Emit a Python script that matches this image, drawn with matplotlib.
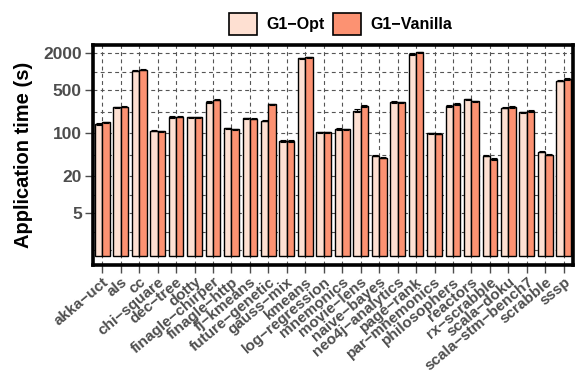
import numpy as np
import matplotlib
matplotlib.use('Agg')
import matplotlib.pyplot as plt
from matplotlib.patches import Patch
from matplotlib.ticker import FixedLocator, NullFormatter

benchmarks = ['akka-uct', 'als', 'cc', 'chi-square', 'dec-tree', 'dotty',
              'finagle-chirper', 'finagle-http', 'fj-kmeans', 'future-genetic',
              'gauss-mix', 'kmeans', 'log-regression', 'mnemonics', 'movie-lens',
              'naive-bayes', 'neo4j-analytics', 'page-rank', 'par-mnemonics',
              'philosophers', 'reactors', 'rx-scrabble', 'scala-doku',
              'scala-stm-bench7', 'scrabble', 'sssp']

# mean application time in seconds
opt_time = [142, 265, 1040, 110, 184, 182, 323, 121, 175, 160,
            75, 1660, 105, 117, 233, 43, 323, 1950, 101,
            278, 357, 43, 261, 220, 50, 717]
vanilla_time = [151, 271, 1080, 109, 186, 182, 352, 116, 173, 296,
                75, 1720, 104, 116, 278, 40, 319, 2070, 99,
                300, 332, 38, 271, 231, 45, 764]

# standard deviation
opt_err = [3, 6, 25, 2, 4, 4, 8, 3, 4, 4,
           2, 40, 2, 3, 15, 1, 8, 45, 2,
           12, 10, 1, 6, 5, 1, 15]
vanilla_err = [3, 6, 25, 2, 4, 4, 8, 3, 4, 6,
               2, 40, 2, 3, 8, 1, 8, 45, 2,
               8, 8, 1, 10, 6, 1, 15]

y_breaks = [5, 20, 100, 500, 2000]

series = ['G1-Opt', 'G1-Vanilla']
colors = ['#FEE0D2', '#FC9272']

plt.rcParams['font.family'] = ['Liberation Sans', 'DejaVu Sans']
plt.rcParams['font.weight'] = 'bold'
plt.rcParams['axes.labelweight'] = 'bold'

def minus(s):
    return s.replace('-', '\u2212')

fig = plt.figure(figsize=(5.81, 3.73), dpi=100)
ax = fig.add_axes([93/581, 1 - 265/373, 480/581, (265 - 44.5)/373])

x = np.arange(1, len(benchmarks) + 1)
w = 0.4
for off, vals, errs, col in [(-w/2, opt_time, opt_err, colors[0]),
                             (w/2, vanilla_time, vanilla_err, colors[1])]:
    vals = np.array(vals, dtype=float)
    ax.bar(x + off, vals - 1, w, bottom=1, color=col, edgecolor='black',
           linewidth=1.0, zorder=2)
    ax.errorbar(x + off, vals, yerr=errs, fmt='none', ecolor='black',
                elinewidth=0.8, capsize=2.5, capthick=0.8, zorder=3)

ax.set_yscale('log')
ax.set_xlim(0.5, len(benchmarks) + 0.5)
ax.set_ylim(10 ** -0.141, 10 ** 3.444)

# minor grid at half steps between the breaks (in log space), extended one step down
lb = np.log10(y_breaks)
step = lb[1] - lb[0]
ext = np.concatenate([[lb[0] - step], lb])
minor = np.concatenate([ext[:-1] + np.diff(ext) / 2, [ext[0]]])
ax.set_yticks(y_breaks)
ax.set_yticklabels([str(b) for b in y_breaks])
ax.yaxis.set_minor_locator(FixedLocator(10 ** minor))
ax.yaxis.set_minor_formatter(NullFormatter())
ax.tick_params(axis='y', which='minor', length=0)

ax.set_xticks(x)
ax.set_xticklabels([minus(b) for b in benchmarks], rotation=40, ha='right',
                   va='top', rotation_mode='anchor', fontsize=11,
                   color='#4D4D4D')
ax.tick_params(axis='y', which='major', labelsize=12.5, labelcolor='#4D4D4D',
               length=6, width=1.0, color='#4D4D4D', pad=2)
ax.tick_params(axis='x', which='major', length=6, width=1.0,
               color='#4D4D4D', pad=1)

grid_style = dict(color='#555555', linewidth=0.8, linestyle=(0, (3.5, 3)))
ax.grid(True, axis='y', which='both', **grid_style)
ax.grid(True, axis='x', which='major', **grid_style)
ax.set_axisbelow(True)

for sp in ax.spines.values():
    sp.set_linewidth(2.6)
    sp.set_color('black')
    sp.set_zorder(5)

ax.set_ylabel('Application time (s)', fontsize=14.5, color='black',
              fontweight='bold')
ax.yaxis.set_label_coords(-0.125, 0.5)

handles = [Patch(facecolor=c, edgecolor='black', linewidth=1.2) for c in colors]
fig.legend(handles, [minus(s) for s in series], loc='center',
           bbox_to_anchor=(340.5/581, 1 - 24/373), ncol=2, frameon=False,
           fontsize=11.5, handlelength=1.75, handleheight=1.75,
           handletextpad=0.6, columnspacing=0.5, borderpad=0)

fig.savefig('out.png', dpi=100)
